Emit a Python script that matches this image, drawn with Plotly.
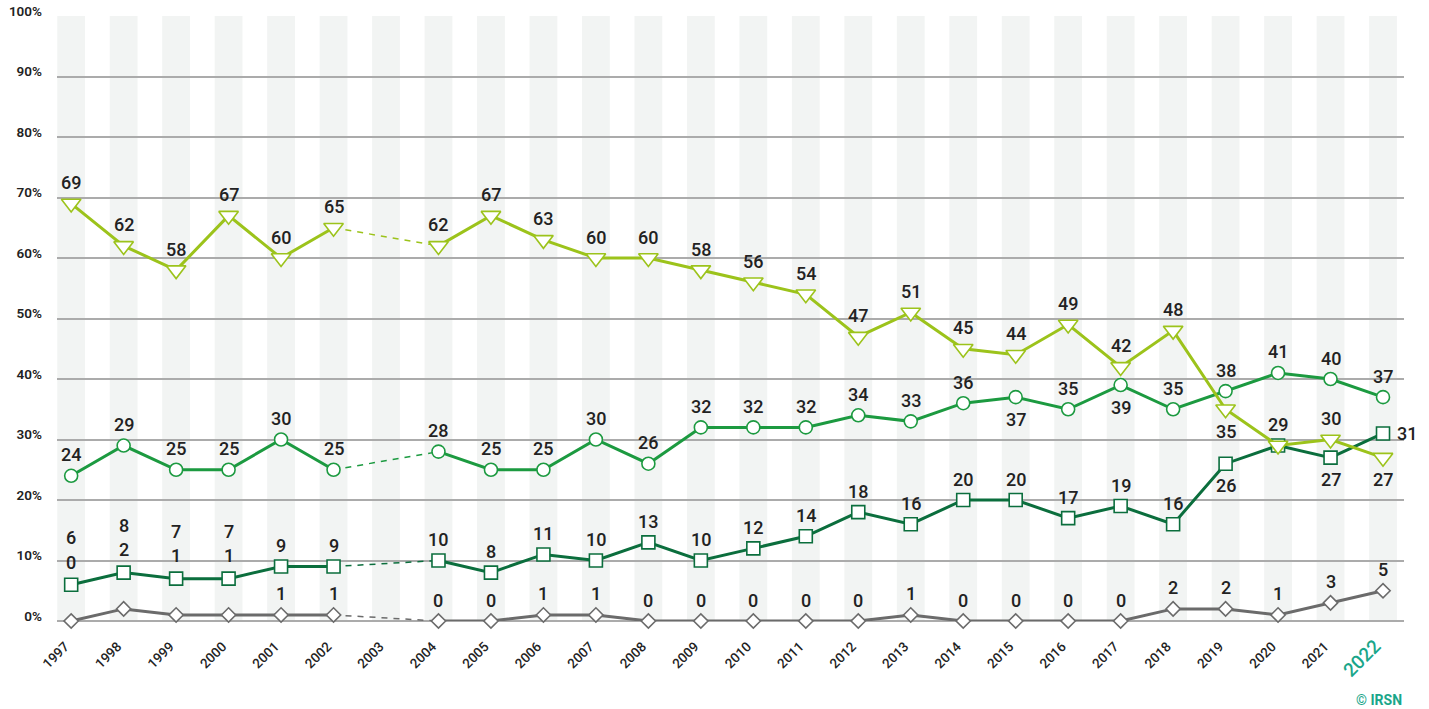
import plotly.graph_objects as go

years = [str(y) for y in range(1997, 2023)]

# series values (None = no survey in 2003)
s_triangle = [69, 62, 58, 67, 60, 65, None, 62, 67, 63, 60, 60, 58, 56, 54, 47, 51, 45, 44, 49, 42, 48, 35, 29, 30, 27]
s_circle = [24, 29, 25, 25, 30, 25, None, 28, 25, 25, 30, 26, 32, 32, 32, 34, 33, 36, 37, 35, 39, 35, 38, 41, 40, 37]
s_square = [6, 8, 7, 7, 9, 9, None, 10, 8, 11, 10, 13, 10, 12, 14, 18, 16, 20, 20, 17, 19, 16, 26, 29, 27, 31]
s_diamond = [0, 2, 1, 1, 1, 1, None, 0, 0, 1, 1, 0, 0, 0, 0, 0, 1, 0, 0, 0, 0, 2, 2, 1, 3, 5]

y_ticks = list(range(0, 101, 10))
y_tick_labels = [f"{v}%" for v in y_ticks]

C_TRI = "#9cc31b"
C_CIR = "#1c9a40"
C_SQR = "#0b6e3d"
C_DIA = "#6b6b6b"
TEAL = "#1aa68a"
TXT = "#222222"

# label placement overrides: index -> (xshift, yshift); None = hidden
lab_tri = {22: (0, -22), 25: (0, -22)}
lab_cir = {18: (0, -22), 20: (0, -22)}
lab_sqr = {0: (0, 47), 1: (0, 47), 2: (0, 47), 3: (0, 47), 22: (0, -22), 23: None, 24: (0, -22), 25: (24, 0)}
lab_dia = {0: (0, 59), 1: (0, 59), 2: (0, 59), 3: (0, 59)}

fig = go.Figure()

idx = list(range(len(years)))

# background stripes
shapes = []
for i in idx:
    shapes.append(dict(type="rect", xref="x", yref="y", x0=i - 0.265, x1=i + 0.265, y0=0, y1=100,
                       fillcolor="#f2f4f3", line_width=0, layer="below"))

series = [
    (s_diamond, C_DIA, "diamond", 11, lab_dia),
    (s_square, C_SQR, "square", 13, lab_sqr),
    (s_circle, C_CIR, "circle", 13, lab_cir),
    (s_triangle, C_TRI, "triangle-down", 17, lab_tri),
]

annotations = []
gap = years.index("2003")
for vals, col, sym, sz, labs in series:
    # dashed connector across the missing year
    fig.add_trace(go.Scatter(x=[idx[gap - 1], idx[gap + 1]], y=[vals[gap - 1], vals[gap + 1]],
                             mode="lines", line=dict(color=col, width=1.5, dash="6px,6px"),
                             hoverinfo="skip", showlegend=False, cliponaxis=False))
    fig.add_trace(go.Scatter(x=idx, y=vals, mode="lines+markers", connectgaps=False,
                             line=dict(color=col, width=3),
                             marker=dict(symbol=sym, size=sz, color="white", line=dict(color=col, width=1.6)),
                             showlegend=False, cliponaxis=False))
    for i, v in enumerate(vals):
        if v is None:
            continue
        pos = labs.get(i, (0, 21))
        if pos is None:
            continue
        annotations.append(dict(x=i, y=v, xref="x", yref="y", text=str(v), showarrow=False,
                                xshift=pos[0], yshift=pos[1], xanchor="center", yanchor="middle",
                                font=dict(family="Roboto", size=18, color=TXT, weight=500)))

annotations.append(dict(x=1, y=-0.1306, xref="paper", yref="paper", text="© IRSN", showarrow=False,
                        xanchor="right", yanchor="middle",
                        font=dict(family="Roboto", size=14, color=TEAL, weight=700)))

tick_text = [y if y != "2022" else f'<span style="color:{TEAL};font-size:19px">{y}</span>' for y in years]

fig.update_layout(
    width=1429, height=709,
    margin=dict(l=57, r=25, t=16, b=88, autoexpand=False),
    plot_bgcolor="white", paper_bgcolor="white",
    shapes=shapes, annotations=annotations,
    xaxis=dict(type="linear", range=[-0.27, 25.4], tickvals=idx, ticktext=tick_text,
               tickangle=-45, showgrid=False, zeroline=False, showline=False, ticks="",
               ticklabelstandoff=14, ticklabelshift=-6,
               tickfont=dict(family="Roboto", size=13.5, color=TXT, weight=500)),
    yaxis=dict(range=[0, 100], tickvals=y_ticks, ticktext=y_tick_labels, showgrid=True,
               gridcolor="#ababab", gridwidth=1.5, zeroline=True, zerolinecolor="#ababab", zerolinewidth=1.5,
               showline=False, ticks="", ticklabelstandoff=14, ticklabelshift=-5,
               tickfont=dict(family="Roboto", size=13.5, color=TXT, weight=600)),
)

fig.write_html("out.html", config={"displayModeBar": False},
               post_script="document.body.style.margin='0';document.body.style.overflow='hidden';")
